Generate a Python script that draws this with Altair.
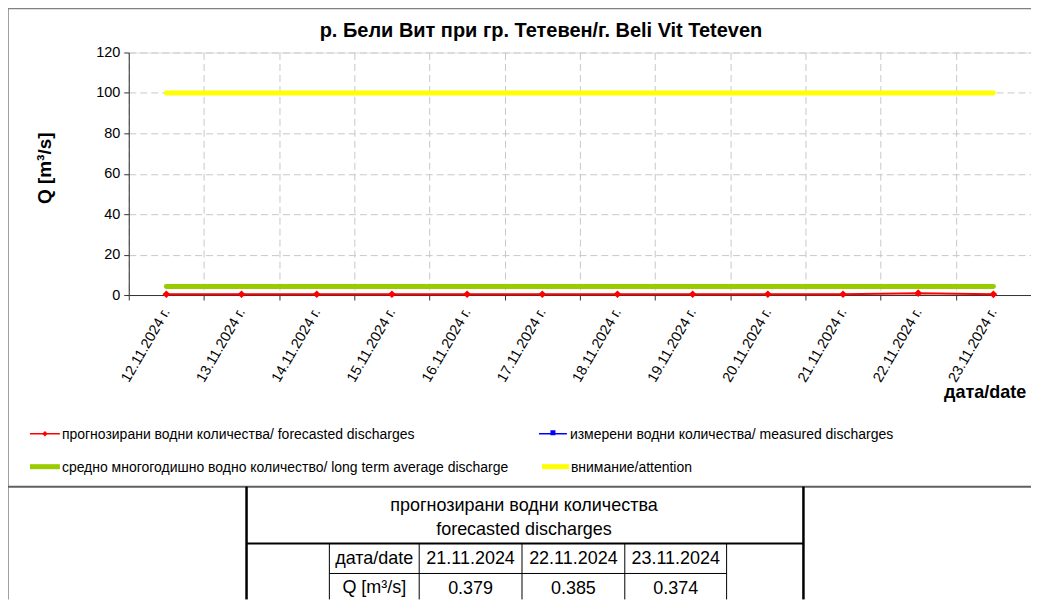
import altair as alt
import pandas as pd

# ---------------- data ----------------
dates = ["12.11.2024 г.", "13.11.2024 г.", "14.11.2024 г.", "15.11.2024 г.",
         "16.11.2024 г.", "17.11.2024 г.", "18.11.2024 г.", "19.11.2024 г.",
         "20.11.2024 г.", "21.11.2024 г.", "22.11.2024 г.", "23.11.2024 г."]
forecast = [0.38, 0.38, 0.38, 0.38, 0.38, 0.38, 0.38, 0.38, 0.38, 0.38, 0.9, 0.37]
average = [4.2, 4.2, 4.2, 4.2, 4.2, 4.2, 4.2, 4.2, 4.2, 4.2, 4.2, 4.2]
attention = [100, 100, 100, 100, 100, 100, 100, 100, 100, 100, 100, 100]
y_ticks = [0, 20, 40, 60, 80, 100, 120]

title_text = "р. Бели Вит при гр. Тетевен/г. Beli Vit Teteven"
y_title = "Q [m³/s]"
x_title = "дата/date"
legend_labels = ["прогнозирани  водни количества/ forecasted discharges",
                 "измерени  водни количества/ measured discharges",
                 "средно  многогодишно  водно количество/ long term average  discharge",
                 "внимание/attention"]
table_head = ["прогнозирани водни количества", "forecasted discharges"]
table_row_labels = ["дата/date", "Q [m³/s]"]
table_dates = ["21.11.2024", "22.11.2024", "23.11.2024"]
table_q = ["0.379", "0.385", "0.374"]

# ---------------- styles ----------------
FONT = "Liberation Sans"
RED = "#ff0000"
GREEN = "#99cc00"
YELLOW = "#ffff00"
BLUE = "#0000ff"
GRID = "#c8c8c8"

W, H = 904, 243

rows = []
for d, f, a, t in zip(dates, forecast, average, attention):
    rows.append({"date": d, "series": "attention", "value": t})
    rows.append({"date": d, "series": "average", "value": a})
    rows.append({"date": d, "series": "forecast", "value": f})
df = pd.DataFrame(rows)

base = alt.Chart(df).encode(
    x=alt.X("date:N", sort=dates,
            scale=alt.Scale(type="band", paddingInner=0, paddingOuter=0),
            axis=alt.Axis(title=None, labelAngle=-60, tickBand="extent",
                          grid=True, gridDash=[7, 4], gridColor=GRID,
                          domainColor="#333333", tickColor="#333333",
                          tickSize=5, labelFont=FONT, labelFontSize=14.5,
                          labelColor="black", labelPadding=9)),
    y=alt.Y("value:Q", scale=alt.Scale(domain=[0, 120], nice=False),
            axis=alt.Axis(title=None, values=y_ticks, grid=True,
                          gridDash=[7, 4], gridColor=GRID,
                          domainColor="#333333", tickColor="#333333",
                          tickSize=5, labelFont=FONT, labelFontSize=14.5,
                          labelColor="black", labelPadding=4)),
)

yellow_line = base.transform_filter(alt.datum.series == "attention").mark_line(
    color=YELLOW, strokeWidth=5, strokeCap="round")
green_line = base.transform_filter(alt.datum.series == "average").mark_line(
    color=GREEN, strokeWidth=5, strokeCap="round")
red_line = base.transform_filter(alt.datum.series == "forecast").mark_line(
    color=RED, strokeWidth=2)
red_pts = base.transform_filter(alt.datum.series == "forecast").mark_point(
    shape="diamond", filled=True, color=RED, size=60, opacity=1)

one = pd.DataFrame({"a": [0]})


def txt(text, x, y, size=13, font=FONT, bold=False, align="left", angle=0,
        baseline="middle"):
    kw = dict(font=font, fontSize=size, align=align, baseline=baseline,
              color="black")
    if bold:
        kw["fontWeight"] = "bold"
    if angle:
        kw["angle"] = angle
    return alt.Chart(pd.DataFrame({"t": [text]})).mark_text(**kw).encode(
        text="t:N", x=alt.value(x), y=alt.value(y))


def hrule(x1, x2, y, color="black", w=1):
    return alt.Chart(one).mark_rule(color=color, strokeWidth=w).encode(
        x=alt.value(x1), x2=alt.value(x2), y=alt.value(y))


def vrule(x, y1, y2, color="black", w=1):
    return alt.Chart(one).mark_rule(color=color, strokeWidth=w).encode(
        x=alt.value(x), y=alt.value(y1), y2=alt.value(y2))


def sym(x, y, shape, color, size):
    return alt.Chart(one).mark_point(shape=shape, filled=True, color=color,
                                     size=size, opacity=1).encode(
        x=alt.value(x), y=alt.value(y))


layers = [yellow_line, green_line, red_line, red_pts]

# titles
layers.append(txt(title_text, 413, -22, size=20, bold=True, align="center"))
layers.append(txt(y_title, -84, 116, size=19, bold=True, align="center", angle=270))
layers.append(txt(x_title, 858, 341, size=18, bold=True, align="center"))

# legend
layers += [
    hrule(-99, -69, 382, RED, 1.5), sym(-84, 382, "diamond", RED, 30),
    txt(legend_labels[0], -67, 383, size=14),
    hrule(411, 439, 382, BLUE, 1.5), sym(425, 381, "square", BLUE, 25),
    txt(legend_labels[1], 442, 383, size=14),
    hrule(-99, -69, 415, GREEN, 5),
    txt(legend_labels[2], -67, 416, size=14),
    hrule(414, 441, 415, YELLOW, 5),
    txt(legend_labels[3], 443, 416, size=14),
]

# outer frame
layers += [
    hrule(-121, 910, -44, "#808080", 1.5),
    vrule(-121, -44, 548, "#808080", 1.5),
    hrule(-121, 910, 435, "#606060", 2),
]

# table
col_x = [201, 291, 394, 497, 599]
layers += [
    vrule(118, 435, 548, "black", 2.5),
    vrule(676, 435, 548, "black", 2.5),
    hrule(118, 676, 492, "black", 2),
    hrule(201, 599, 522, "black", 1),
]
for cx in col_x:
    layers.append(vrule(cx, 492, 548, "black", 1))
layers.append(txt(table_head[0], 396, 454, size=18, align="center"))
layers.append(txt(table_head[1], 396, 478, size=18, align="center"))
layers.append(txt(table_row_labels[0], 246, 508, size=18, align="center"))
layers.append(txt(table_row_labels[1], 246, 537, size=18, align="center"))
for i, (d, q) in enumerate(zip(table_dates, table_q)):
    cx = (col_x[i + 1] + col_x[i + 2]) / 2
    layers.append(txt(d, cx, 508, size=18, align="center"))
    layers.append(txt(q, cx, 538, size=18, align="center"))

chart = alt.layer(*layers).properties(
    width=W, height=H,
    autosize=alt.AutoSizeParams(type="none"),
    padding={"left": 121, "top": 44, "right": 0, "bottom": 305},
).configure_view(stroke=None).configure(background="white")

chart.save("out.html", embed_options={"renderer": "svg", "actions": False})
